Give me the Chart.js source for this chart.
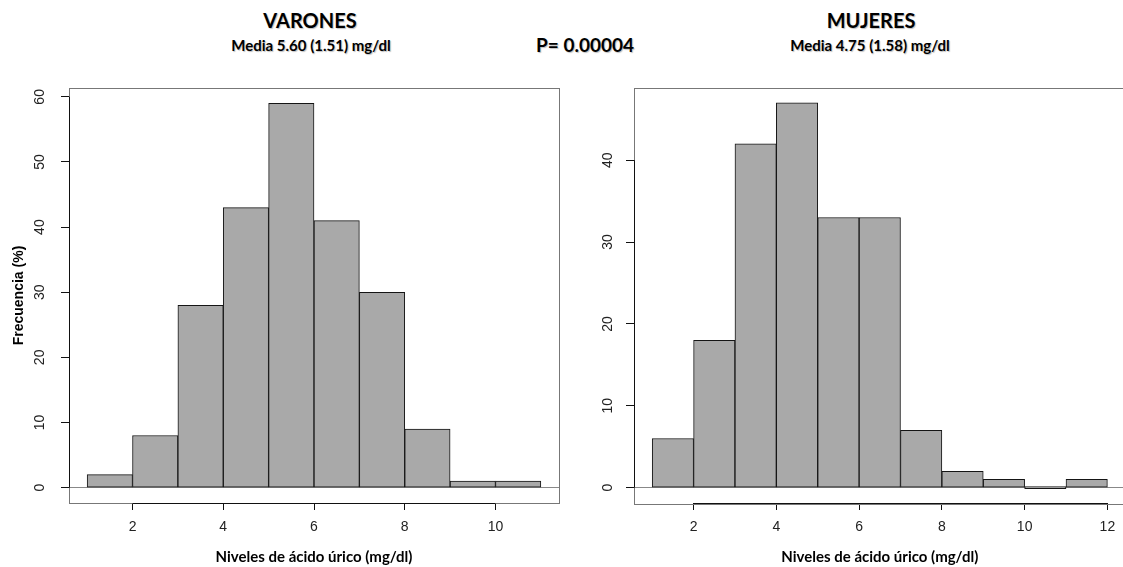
<!DOCTYPE html>
<html>
<head>
<meta charset="utf-8">
<script src="https://cdn.jsdelivr.net/npm/chart.js@4.4.1/dist/chart.umd.min.js"></script>
<style>
  html, body { margin: 0; padding: 0; width: 1123px; height: 567px; overflow: hidden; background: #fff; }
  .t {
    position: absolute;
    font-family: Lato, 'Open Sans', sans-serif;
    font-weight: bold;
    color: #000;
    white-space: nowrap;
    transform: translate(-50%, -50%);
    text-shadow: 1px 1px 1px rgba(0, 0, 0, 0.25);
  }
  #varones { position: absolute; left: 0; top: 0; }
  #mujeres { position: absolute; left: 562px; top: 0; }
</style>
</head>
<body>
<div class="t" style="left:310px;top:20px;font-size:20px">VARONES</div>
<div class="t" style="left:311px;top:45px;font-size:15px">Media 5.60 (1.51) mg/dl</div>
<div class="t" style="left:585px;top:44px;font-size:19px">P= 0.00004</div>
<div class="t" style="left:871px;top:20px;font-size:20px">MUJERES</div>
<div class="t" style="left:870px;top:45px;font-size:15px">Media 4.75 (1.58) mg/dl</div>

<canvas id="varones" width="561" height="567"></canvas>
<canvas id="mujeres" width="600" height="567"></canvas>

<script>
// histogram bins (mid points) and counts
const binMidsVarones = [1.5, 2.5, 3.5, 4.5, 5.5, 6.5, 7.5, 8.5, 9.5, 10.5];
const countsVarones = [2, 8, 28, 43, 59, 41, 30, 9, 1, 1];

const binMidsMujeres = [1.5, 2.5, 3.5, 4.5, 5.5, 6.5, 7.5, 8.5, 9.5, 10.5, 11.5];
const countsMujeres = [6, 18, 42, 47, 33, 33, 7, 2, 1, 0, 1];

const xTicksVarones = [2, 4, 6, 8, 10];
const yTicksVarones = [0, 10, 20, 30, 40, 50, 60];
const xTicksMujeres = [2, 4, 6, 8, 10, 12];
const yTicksMujeres = [0, 10, 20, 30, 40];

// axis limits, R style (4% padding around data range)
const xRangeVarones = [0.6, 11.4];
const yRangeVarones = [-2.36, 61.36];
const xRangeMujeres = [0.56, 12.44];
const yRangeMujeres = [-1.88, 48.88];

const xTitle = 'Niveles de ácido úrico (mg/dl)';
const yTitle = 'Frecuencia (%)';

// box around the plot + darker axis segments like base R graphics
const rBox = {
  id: 'rBox',
  afterDatasetsDraw(chart) {
    const { ctx, chartArea: a, scales: { x, y } } = chart;
    ctx.save();
    ctx.lineWidth = 1;
    ctx.strokeStyle = '#777';
    ctx.strokeRect(Math.round(a.left) + 0.5, Math.round(a.top) + 0.5,
      Math.round(a.right - a.left), Math.round(a.bottom - a.top));
    ctx.strokeStyle = '#111';
    ctx.beginPath();
    const bx = Math.round(a.bottom) + 0.5;
    ctx.moveTo(x.getPixelForValue(x.ticks[0].value), bx);
    ctx.lineTo(x.getPixelForValue(x.ticks[x.ticks.length - 1].value), bx);
    const lx = Math.round(a.left) + 0.5;
    ctx.moveTo(lx, y.getPixelForValue(y.ticks[0].value));
    ctx.lineTo(lx, y.getPixelForValue(y.ticks[y.ticks.length - 1].value));
    ctx.stroke();
    ctx.restore();
  }
};

const tickFont = { family: "'Liberation Sans', Arial, sans-serif", size: 14 };

const makeHist = (id, mids, counts, xTicks, yTicks, xRange, yRange, opts) => {
  const ctx = document.getElementById(id).getContext('2d');
  return new Chart(ctx, {
    type: 'bar',
    data: {
      datasets: [{
        data: mids.map((m, i) => ({ x: m, y: counts[i] })),
        backgroundColor: '#a9a9a9',
        borderColor: '#151515',
        borderWidth: 1,
        borderSkipped: false,
        barPercentage: 1,
        categoryPercentage: 1,
        minBarLength: 2,
      }],
    },
    options: {
      responsive: false,
      animation: false,
      devicePixelRatio: 1,
      layout: { padding: opts.padding },
      plugins: { legend: { display: false }, tooltip: { enabled: false } },
      scales: {
        x: {
          type: 'linear',
          min: xRange[0],
          max: xRange[1],
          offset: false,
          afterBuildTicks: s => { s.ticks = xTicks.map(v => ({ value: v })); },
          afterFit: s => { s.height = 64; },
          grid: { offset: false, drawOnChartArea: false, tickLength: 7, tickColor: '#111' },
          border: { display: false },
          ticks: { font: tickFont, color: '#222', padding: 9, maxRotation: 0, autoSkip: false },
          title: {
            display: true,
            text: xTitle,
            font: { family: "Lato, 'Open Sans', sans-serif", size: 15, weight: 'bold' },
            color: '#000',
            padding: { top: 0, bottom: 1 },
          },
        },
        y: {
          type: 'linear',
          min: yRange[0],
          max: yRange[1],
          afterBuildTicks: s => { s.ticks = yTicks.map(v => ({ value: v })); },
          afterFit: s => { s.width = opts.yWidth; },
          grid: {
            offset: false,
            color: c => (c.tick && c.tick.value === 0 ? '#888' : 'rgba(0,0,0,0)'),
            tickColor: '#111',
            tickLength: 8,
          },
          border: { display: false },
          ticks: {
            font: tickFont,
            color: '#222',
            padding: opts.yPad,
            minRotation: 90,
            maxRotation: 90,
            crossAlign: 'center',
            autoSkip: false,
          },
          title: {
            display: opts.showYTitle,
            text: yTitle,
            font: { family: "'Liberation Sans', Arial, sans-serif", size: 14, weight: 'bold' },
            color: '#000',
            padding: { top: 11, bottom: 0 },
          },
        },
      },
    },
    plugins: [rBox],
  });
};

makeHist('varones', binMidsVarones, countsVarones, xTicksVarones, yTicksVarones,
  xRangeVarones, yRangeVarones,
  { padding: { left: 0, top: 88, right: 2, bottom: 0 }, yWidth: 69, yPad: 13, showYTitle: true });

makeHist('mujeres', binMidsMujeres, countsMujeres, xTicksMujeres, yTicksMujeres,
  xRangeMujeres, yRangeMujeres,
  { padding: { left: 0, top: 87.5, right: 36.4, bottom: 0 }, yWidth: 72, yPad: 10, showYTitle: false });
</script>
</body>
</html>
